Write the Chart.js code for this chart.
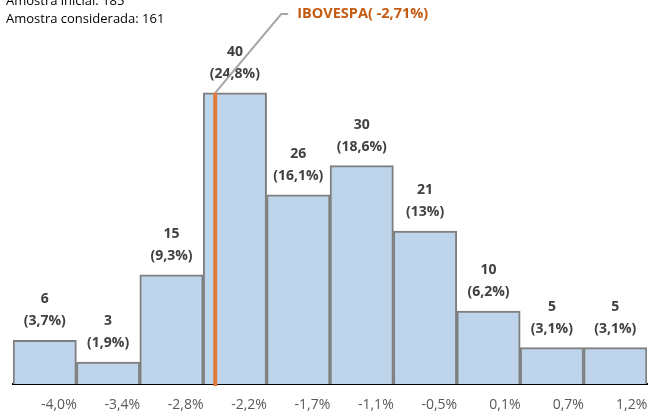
<!DOCTYPE html>
<html>
<head>
<meta charset="utf-8">
<script src="https://cdn.jsdelivr.net/npm/chart.js@4/dist/chart.umd.min.js"></script>
<style>
  html, body { margin: 0; padding: 0; background: #fff; }
  canvas { display: block; }
</style>
</head>
<body>
<canvas id="myChart" width="651" height="415"></canvas>
<script>
// histogram data
var tickLabels = ['-4,0%', '-3,4%', '-2,8%', '-2,2%', '-1,7%', '-1,1%', '-0,5%', '0,1%', '0,7%', '1,2%'];
var upperEdges = [-3.98, -3.40, -2.82, -2.24, -1.66, -1.08, -0.50, 0.08, 0.66, 1.24];
var counts = [6, 3, 15, 40, 26, 30, 21, 10, 5, 5];
var shares = ['3,7', '1,9', '9,3', '24,8', '16,1', '18,6', '13', '6,2', '3,1', '3,1'];
var ibovespa = -2.71;
var ibovespaLabel = 'IBOVESPA( -2,71%)';
var sampleLines = ['Amostra inicial: 185', 'Amostra considerada: 161'];

var fontFamily = '"Open Sans", sans-serif';

var extrasPlugin = {
    id: 'extras',
    afterDatasetsDraw: function(chart) {
        var ctx = chart.ctx;
        var meta = chart.getDatasetMeta(0);
        var y = chart.scales.y;

        // value labels above bars
        ctx.save();
        ctx.fillStyle = '#404040';
        ctx.font = 'bold 14px ' + fontFamily;
        ctx.textAlign = 'center';
        ctx.textBaseline = 'middle';
        meta.data.forEach(function(bar, i) {
            ctx.fillText(String(counts[i]), bar.x, bar.y - 41);
            ctx.fillText('(' + shares[i] + '%)', bar.x, bar.y - 19);
        });
        ctx.restore();

        // IBOVESPA marker: find bin, then position inside it
        var idx = 0;
        while (idx < upperEdges.length - 1 && ibovespa > upperEdges[idx]) idx++;
        var lo = idx === 0 ? upperEdges[0] - (upperEdges[1] - upperEdges[0]) : upperEdges[idx - 1];
        var hi = upperEdges[idx];
        var bar = meta.data[idx];
        var left = bar.x - bar.width / 2;
        var mx = left + (ibovespa - lo) / (hi - lo) * bar.width;
        var top = bar.y;

        ctx.save();
        ctx.strokeStyle = '#A6A6A6';
        ctx.lineWidth = 2;
        ctx.beginPath();
        ctx.moveTo(mx, top);
        ctx.lineTo(mx + 66, 14);
        ctx.lineTo(mx + 73, 14);
        ctx.stroke();

        ctx.strokeStyle = '#E07B3C';
        ctx.lineWidth = 4;
        ctx.beginPath();
        ctx.moveTo(mx, top);
        ctx.lineTo(mx, y.getPixelForValue(0) + 2);
        ctx.stroke();

        ctx.fillStyle = '#C55A11';
        ctx.font = 'bold 14.5px ' + fontFamily;
        ctx.textAlign = 'left';
        ctx.textBaseline = 'middle';
        ctx.fillText(ibovespaLabel, mx + 82, 14);

        // sample size note
        ctx.fillStyle = '#000000';
        ctx.font = '13px ' + fontFamily;
        ctx.fillText(sampleLines[0], 6, 1);
        ctx.fillText(sampleLines[1], 6, 19);
        ctx.restore();
    }
};

var ctx = document.getElementById('myChart').getContext('2d');

var myChart = new Chart(ctx, {
    type: 'bar',
    data: {
        labels: tickLabels,
        datasets: [{
            data: counts,
            backgroundColor: '#BDD4EA',
            borderColor: '#7F7F7F',
            borderWidth: 2,
            borderSkipped: 'bottom',
            barPercentage: 1,
            categoryPercentage: 1
        }]
    },
    options: {
        responsive: false,
        animation: false,
        layout: { autoPadding: false, padding: { left: 13, right: 4, top: 20, bottom: 0 } },
        plugins: {
            legend: { display: false },
            tooltip: { enabled: false }
        },
        scales: {
            x: {
                z: 1,
                afterFit: function(scale) {
                    scale.height = 31;
                    scale.paddingLeft = 0;
                    scale.paddingRight = 0;
                },
                grid: { display: false, drawTicks: false },
                border: { display: true, color: '#000000', width: 2 },
                ticks: {
                    color: '#595959',
                    font: { family: fontFamily, size: 14 },
                    align: 'end',
                    labelOffset: 32,
                    padding: 13,
                    maxRotation: 0,
                    autoSkip: false
                }
            },
            y: {
                display: false,
                min: 0,
                max: 50
            }
        }
    },
    plugins: [extrasPlugin]
});
</script>
</body>
</html>
